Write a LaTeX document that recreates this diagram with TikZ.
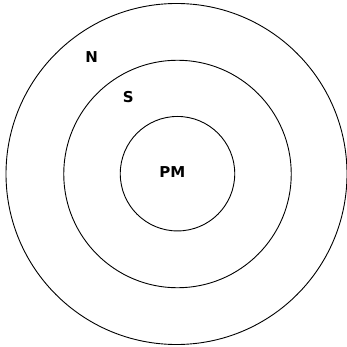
\documentclass[tikz,border=0pt]{standalone}
\usepackage{fontspec}
\setsansfont{DejaVu Sans}
\usepackage{tikz}
\usetikzlibrary{positioning}
\tikzset{
  ring/.style={
    circle, draw=black, line width=0.9pt, inner sep=0pt
  },
  tag/.style={
    font=\sffamily\bfseries\fontsize{15}{17}\selectfont, inner sep=0pt
  }
}

\begin{document}
\begin{tikzpicture}[x=1pt, y=-1pt]
  \useasboundingbox (0,0) rectangle (347,347);

  \node[ring, minimum size=341pt] (outer) at (176.5,174) {};
  \node[ring, minimum size=227.5pt] (middle) at (177.5,174) {};
  \node[ring, minimum size=114.5pt] (inner) at (177.5,173.7) {};

  \node[tag] (n) at (91.7,57.3) {N};
  \node[tag] (s) at (128.3,96.7) {S};
  \node[tag] (pm) at (172.3,172.3) {PM};
\end{tikzpicture}
\end{document}
